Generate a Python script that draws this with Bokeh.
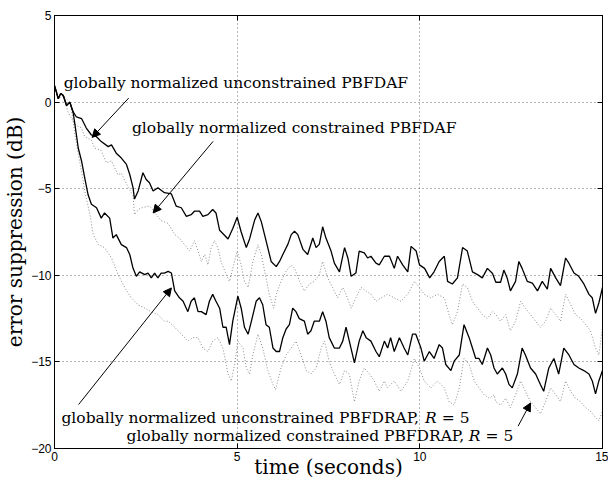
from bokeh.plotting import figure
from bokeh.models import Range1d, FixedTicker, LinearAxis, Arrow, NormalHead, Label
from bokeh.embed import file_html
from bokeh.resources import INLINE

# ---------------- data ----------------
t_unc_daf = [0, 0.05, 0.1, 0.17, 0.24, 0.33, 0.42, 0.51, 0.6, 0.74, 0.87, 1.01, 1.15, 1.28, 1.47, 1.56, 1.69,
             1.83, 1.97, 2.06, 2.15, 2.19, 2.29, 2.42, 2.51, 2.6, 2.7, 2.83, 3.01, 3.2, 3.33, 3.47, 3.61, 3.74,
             3.83, 3.97, 4.06, 4.2, 4.33, 4.42, 4.52, 4.66, 4.75, 4.88, 5.0, 5.11, 5.25, 5.34, 5.48, 5.57, 5.66,
             5.79, 5.93, 6.07, 6.16, 6.25, 6.39, 6.48, 6.57, 6.66, 6.8, 6.93, 7.07, 7.16, 7.25, 7.34, 7.43, 7.57,
             7.66, 7.8, 7.94, 8.03, 8.12, 8.25, 8.34, 8.48, 8.57, 8.66, 8.8, 8.89, 9.03, 9.17, 9.3, 9.39, 9.53,
             9.67, 9.76, 9.9, 9.99, 10.13, 10.27, 10.39, 10.53, 10.67, 10.76, 10.89, 11.03, 11.17, 11.3, 11.44,
             11.58, 11.71, 11.85, 11.99, 12.08, 12.21, 12.3, 12.39, 12.48, 12.62, 12.71, 12.8, 12.94, 13.08,
             13.22, 13.35, 13.49, 13.58, 13.72, 13.85, 13.99, 14.08, 14.22, 14.35, 14.49, 14.63, 14.72, 14.81,
             14.9, 15.0]
y_unc_daf = [0.95, 0.6, 0.2, 0.5, 0.38, -0.2, 0.0, -0.57, -0.86, -0.95, -1.5, -1.9, -2.0, -2.28, -2.57, -2.47,
             -2.95, -3.23, -3.6, -4.18, -4.94, -5.6, -5.13, -4.08, -4.47, -4.66, -5.13, -4.94, -5.23, -5.3, -6.0,
             -6.1, -6.6, -6.5, -6.3, -6.3, -6.6, -6.5, -6.2, -6.4, -7.4, -7.7, -7.9, -7.3, -6.65, -7.5, -8.4, -7.9,
             -6.8, -6.4, -6.9, -8.0, -9.2, -9.5, -9.2, -8.8, -8.2, -7.65, -7.46, -7.65, -8.5, -8.8, -7.85, -8.4,
             -8.2, -7.2, -7.85, -8.6, -9.3, -9.8, -8.4, -9.0, -10.06, -9.87, -8.6, -8.7, -9.0, -8.9, -9.3, -9.4,
             -8.9, -8.9, -9.6, -8.9, -9.4, -9.8, -8.33, -8.6, -9.4, -9.6, -10.15, -9.8, -9.2, -8.9, -10.35, -10.5,
             -10.15, -8.4, -8.6, -9.8, -9.96, -10.15, -9.6, -9.9, -10.4, -10.4, -9.7, -10.15, -10.9, -10.35, -9.2,
             -9.6, -10.35, -10.45, -10.9, -10.35, -10.8, -9.6, -10.15, -10.6, -9.0, -9.3, -9.87, -10.06, -10.5,
             -11.1, -11.3, -12.2, -11.6, -10.7]

t_unc_drap = [0, 0.05, 0.1, 0.17, 0.24, 0.33, 0.42, 0.51, 0.56, 0.65, 0.74, 0.83, 0.92, 1.01, 1.15, 1.28, 1.37,
              1.51, 1.6, 1.69, 1.83, 1.97, 2.06, 2.15, 2.24, 2.33, 2.47, 2.56, 2.65, 2.74, 2.83, 2.92, 3.01, 3.11,
              3.2, 3.29, 3.42, 3.52, 3.65, 3.74, 3.83, 3.93, 4.02, 4.15, 4.24, 4.33, 4.42, 4.52, 4.61, 4.7, 4.79,
              4.88, 5.02, 5.11, 5.2, 5.3, 5.39, 5.52, 5.61, 5.7, 5.79, 5.88, 5.98, 6.07, 6.16, 6.25, 6.34, 6.43,
              6.52, 6.61, 6.7, 6.84, 6.93, 7.02, 7.11, 7.25, 7.34, 7.43, 7.52, 7.66, 7.8, 7.89, 7.98, 8.07, 8.21,
              8.34, 8.44, 8.53, 8.66, 8.8, 8.89, 9.03, 9.12, 9.2, 9.3, 9.44, 9.57, 9.67, 9.8, 9.89, 10.03, 10.12,
              10.26, 10.39, 10.53, 10.62, 10.71, 10.85, 10.94, 11.08, 11.21, 11.35, 11.44, 11.53, 11.62, 11.71,
              11.85, 11.94, 12.03, 12.12, 12.26, 12.35, 12.44, 12.53, 12.67, 12.8, 12.89, 13.03, 13.17, 13.3,
              13.39, 13.53, 13.67, 13.8, 13.94, 14.08, 14.22, 14.35, 14.49, 14.63, 14.72, 14.81, 14.9, 15.0]
y_unc_drap = [0.95, 0.6, 0.2, 0.5, 0.38, -0.2, 0.0, -0.6, -1.3, -2.65, -3.4, -4.4, -5.35, -5.9, -6.1, -6.7, -6.4,
              -6.7, -7.85, -7.65, -8.23, -8.4, -8.8, -9.6, -10.06, -9.8, -9.96, -9.87, -10.15, -9.87, -10.15, -9.87,
              -9.87, -9.77, -9.87, -10.9, -11.3, -11.5, -12.1, -11.5, -11.3, -12.1, -12.1, -12.27, -11.5, -11.1,
              -11.5, -11.9, -13.0, -13.0, -14.0, -12.65, -11.2, -11.9, -13.0, -13.4, -12.65, -11.5, -11.3, -11.7,
              -12.85, -13.0, -14.2, -14.4, -14.4, -13.6, -13.1, -12.85, -11.9, -12.1, -12.5, -12.65, -13.4, -13.2,
              -12.65, -12.65, -12.1, -12.65, -13.6, -14.2, -14.2, -13.8, -13.0, -13.8, -15.06, -13.8, -13.2, -13.6,
              -13.8, -14.4, -14.7, -13.8, -14.2, -13.6, -14.4, -13.6, -14.2, -14.6, -13.4, -13.4, -14.2, -14.96,
              -14.4, -14.8, -14.0, -14.2, -15.15, -15.5, -14.96, -14.6, -12.85, -13.6, -14.2, -14.8, -14.8, -15.15,
              -14.2, -14.6, -15.35, -15.7, -15.35, -15.7, -16.3, -16.5, -15.7, -14.2, -14.6, -15.35, -15.7, -16.3,
              -16.7, -15.35, -14.8, -15.7, -14.2, -14.6, -15.15, -15.35, -15.5, -15.7, -16.1, -16.85, -16.1, -15.5]

t_con_daf = [0, 0.1, 0.24, 0.37, 0.56, 0.74, 0.83, 1.01, 1.1, 1.28, 1.42, 1.56, 1.74, 1.83, 2.01, 2.15, 2.19, 2.29,
             2.42, 2.6, 2.74, 2.92, 3.11, 3.29, 3.42, 3.56, 3.7, 3.83, 3.93, 4.02, 4.11, 4.2, 4.29, 4.38, 4.47,
             4.56, 4.7, 4.79, 4.88, 5.0, 5.11, 5.2, 5.3, 5.43, 5.57, 5.66, 5.79, 5.88, 6.0, 6.07, 6.2, 6.34, 6.48,
             6.57, 6.71, 6.84, 6.98, 7.11, 7.25, 7.34, 7.48, 7.61, 7.75, 7.89, 7.98, 8.12, 8.25, 8.39, 8.53, 8.66,
             8.8, 8.94, 9.11, 9.3, 9.48, 9.67, 9.85, 9.99, 10.12, 10.3, 10.48, 10.67, 10.8, 10.89, 11.03, 11.17,
             11.3, 11.44, 11.58, 11.71, 11.85, 11.99, 12.08, 12.21, 12.35, 12.48, 12.62, 12.76, 12.89, 13.03,
             13.17, 13.3, 13.44, 13.58, 13.72, 13.85, 13.99, 14.13, 14.26, 14.4, 14.54, 14.67, 14.81, 14.9, 15.0]
y_con_daf = [0.95, 0.2, 0.38, -0.57, -1.3, -1.5, -2.0, -2.2, -2.65, -2.8, -3.5, -3.4, -4.2, -4.1, -4.9, -5.4, -6.5,
             -6.2, -6.08, -6.0, -6.37, -6.85, -7.0, -7.65, -7.85, -8.23, -8.6, -8.0, -8.6, -9.2, -8.8, -9.4, -8.4,
             -8.0, -8.4, -9.2, -9.96, -10.35, -9.6, -8.6, -9.4, -10.35, -10.7, -9.2, -8.23, -8.8, -10.15, -11.1,
             -11.9, -11.1, -10.35, -9.77, -9.4, -9.6, -10.35, -10.9, -10.5, -10.35, -9.96, -9.2, -10.15, -10.7,
             -11.3, -10.7, -11.1, -11.9, -11.3, -10.7, -10.9, -11.1, -11.5, -11.3, -11.1, -11.3, -11.5, -11.1,
             -10.35, -10.7, -11.1, -11.3, -11.1, -11.3, -12.27, -12.85, -12.1, -10.5, -10.7, -11.5, -11.9, -12.27,
             -12.5, -12.1, -12.27, -12.65, -12.27, -13.2, -12.65, -11.5, -11.9, -12.27, -12.65, -13.0, -12.65,
             -11.9, -12.27, -12.65, -11.1, -11.7, -12.27, -12.5, -12.85, -13.2, -14.2, -14.6, -13.0]

t_con_drap = [0, 0.1, 0.24, 0.42, 0.5, 0.56, 0.65, 0.74, 0.83, 0.97, 1.06, 1.2, 1.37, 1.56, 1.74, 1.92, 2.1, 2.29,
              2.47, 2.65, 2.83, 3.01, 3.11, 3.29, 3.47, 3.65, 3.79, 3.93, 4.06, 4.2, 4.33, 4.47, 4.61, 4.75, 4.84,
              4.93, 5.02, 5.16, 5.25, 5.34, 5.43, 5.57, 5.7, 5.84, 5.98, 6.05, 6.2, 6.34, 6.48, 6.61, 6.75, 6.89,
              7.02, 7.16, 7.3, 7.39, 7.52, 7.66, 7.8, 7.94, 8.07, 8.21, 8.34, 8.48, 8.62, 8.75, 8.89, 9.03, 9.11,
              9.3, 9.48, 9.67, 9.85, 9.99, 10.12, 10.3, 10.48, 10.67, 10.8, 10.94, 11.08, 11.21, 11.35, 11.49,
              11.62, 11.76, 11.9, 12.03, 12.08, 12.21, 12.35, 12.48, 12.62, 12.76, 12.89, 13.03, 13.17, 13.3,
              13.44, 13.58, 13.72, 13.85, 13.99, 14.13, 14.26, 14.4, 14.54, 14.67, 14.81, 14.9, 15.0]
y_con_drap = [0.95, 0.2, 0.38, 0.0, -0.9, -1.9, -3.0, -4.0, -5.15, -6.5, -7.65, -8.23, -8.4, -9.0, -9.96, -10.7,
              -11.3, -11.7, -11.9, -12.1, -12.27, -12.65, -12.65, -13.0, -13.4, -13.8, -13.6, -13.6, -14.2, -14.4,
              -13.8, -13.6, -14.2, -15.7, -16.1, -15.15, -13.8, -14.2, -15.35, -15.7, -14.6, -13.4, -14.2, -15.5,
              -16.3, -16.6, -15.35, -14.6, -14.2, -13.8, -14.6, -15.5, -15.7, -15.35, -14.2, -13.8, -15.0, -15.7,
              -16.3, -15.5, -15.7, -17.3, -16.1, -15.35, -15.7, -16.1, -16.7, -16.1, -16.5, -16.1, -16.7, -16.1,
              -14.8, -15.35, -16.1, -16.5, -16.1, -16.5, -17.3, -17.5, -16.5, -14.8, -15.15, -16.1, -16.5, -16.9,
              -17.1, -16.9, -17.3, -17.5, -17.1, -17.65, -16.9, -16.1, -16.7, -17.3, -17.65, -18.0, -17.3, -16.5,
              -16.9, -17.3, -16.1, -16.7, -17.1, -17.3, -17.65, -17.85, -18.2, -18.4, -17.85]

x_ticks = [0, 5, 10, 15]
y_ticks = [-20, -15, -10, -5, 0, 5]
x_title = "time (seconds)"
y_title = "error suppression (dB)"

# annotation texts and anchor points (data units)
lab_texts = ["globally normalized unconstrained PBFDAF",
             "globally normalized constrained PBFDAF",
             "globally normalized unconstrained PBFDRAP,",
             "globally normalized constrained PBFDRAP,"]
lab_x = [0.25, 2.12, 0.19, 1.97]
lab_y = [1.08, -1.5, -18.23, -19.3]
r_x = [10.14, 11.34]
r_eq_x = [10.60, 11.80]
r_y = [-18.23, -19.3]

arr_x0 = [2.03, 4.34, 0.66, 12.69]
arr_y0 = [0.23, -2.27, -17.46, -18.71]
arr_x1 = [1.03, 2.70, 3.20, 13.03]
arr_y1 = [-2.04, -6.40, -10.73, -17.37]

# ---------------- figure ----------------
p = figure(width=608, height=483, x_range=Range1d(0, 15), y_range=Range1d(-20, 5),
           output_backend="svg", toolbar_location=None,
           min_border_left=53, min_border_right=6, min_border_top=15, min_border_bottom=35)
p.background_fill_color = "white"
p.border_fill_color = "white"
p.outline_line_color = "black"
p.outline_line_width = 1
p.outline_line_alpha = 1

def minus(v):
    return ("\u2212" + str(abs(v))) if v < 0 else str(v)

for ax, ticks in ((p.xaxis[0], x_ticks), (p.yaxis[0], y_ticks)):
    ax.ticker = FixedTicker(ticks=ticks)
    ax.major_label_overrides = {v: minus(v) for v in ticks}
    ax.major_tick_in = 5
    ax.major_tick_out = 0
    ax.minor_tick_line_color = None
    ax.axis_line_color = "black"
    ax.major_tick_line_color = "black"
    ax.major_label_text_font = "Liberation Sans"
    ax.major_label_text_font_size = "12px"
    ax.major_label_text_color = "black"
    ax.major_label_standoff = 3
    ax.axis_label_text_font = "DejaVu Serif"
    ax.axis_label_text_font_size = "20px"
    ax.axis_label_text_font_style = "normal"
    ax.axis_label_text_color = "black"

p.xaxis.axis_label = x_title
p.yaxis.axis_label = y_title
p.xaxis.axis_label_standoff = -9
p.yaxis.axis_label_standoff = 1

for loc, ticks in (("above", x_ticks), ("right", y_ticks)):
    a = LinearAxis(ticker=FixedTicker(ticks=ticks), major_label_text_font_size="1px",
                   major_label_text_color=None,
                   major_tick_in=5, major_tick_out=0, minor_tick_line_color=None,
                   major_label_standoff=0, axis_line_color="black", major_tick_line_color="black")
    p.add_layout(a, loc)

p.xgrid.ticker = FixedTicker(ticks=x_ticks)
p.ygrid.ticker = FixedTicker(ticks=y_ticks)
p.grid.grid_line_color = "#444444"
p.grid.grid_line_dash = "1 3"
p.grid.grid_line_alpha = 0.8
p.grid.grid_line_width = 1

# dotted (constrained) curves first, solid on top
p.line(t_con_daf, y_con_daf, line_color="#8a8a8a", line_width=1, line_dash="1 2")
p.line(t_con_drap, y_con_drap, line_color="#8a8a8a", line_width=1, line_dash="1 2")
p.line(t_unc_daf, y_unc_daf, line_color="black", line_width=1.3)
p.line(t_unc_drap, y_unc_drap, line_color="black", line_width=1.3)

for x0, y0, x1, y1 in zip(arr_x0, arr_y0, arr_x1, arr_y1):
    p.add_layout(Arrow(x_start=x0, y_start=y0, x_end=x1, y_end=y1, line_color="black", line_width=1,
                       end=NormalHead(size=8, fill_color="black", line_color="black")))

for txt, x, y in zip(lab_texts, lab_x, lab_y):
    p.add_layout(Label(x=x, y=y, text=txt, text_font="DejaVu Serif", text_font_size="15.5px",
                       text_baseline="middle", text_align="left", text_color="black"))
for x, xe, y in zip(r_x, r_eq_x, r_y):
    p.add_layout(Label(x=x, y=y, text="R", text_font="DejaVu Serif", text_font_size="15.5px",
                       text_font_style="italic", text_baseline="middle", text_color="black"))
    p.add_layout(Label(x=xe, y=y, text="= 5", text_font="DejaVu Serif", text_font_size="15.5px",
                       text_baseline="middle", text_color="black"))

open("out.html", "w").write(file_html(p, INLINE))
